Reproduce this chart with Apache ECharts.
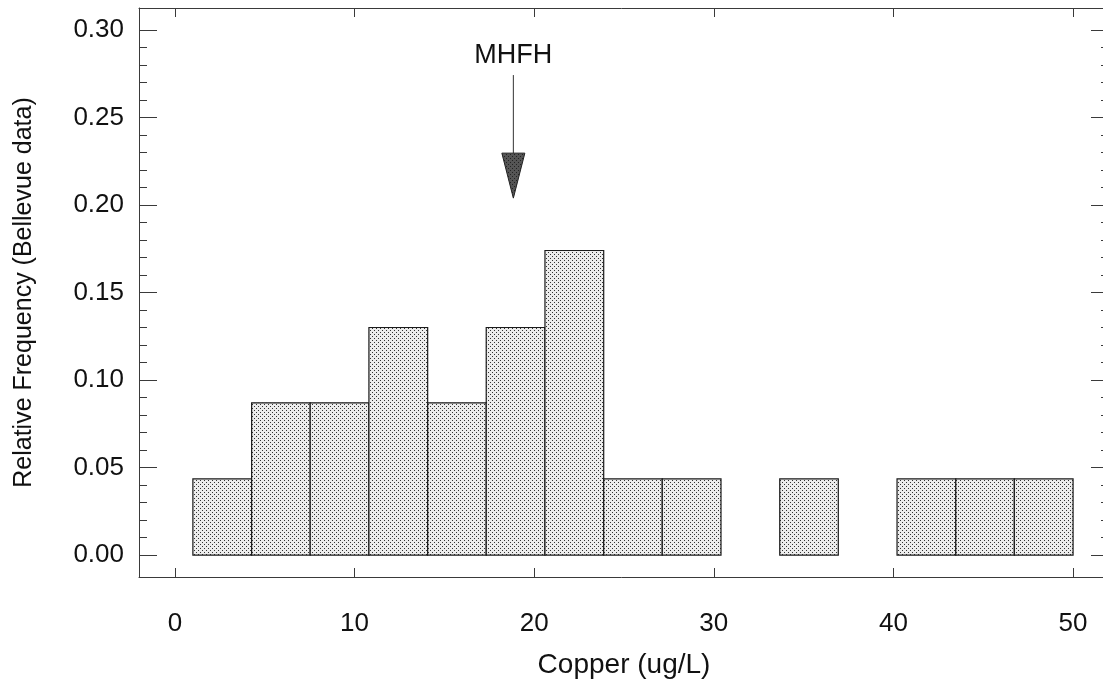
<!DOCTYPE html>
<html>
<head>
<meta charset="utf-8">
<script src="https://cdn.jsdelivr.net/npm/echarts@6/dist/echarts.min.js"></script>
<style>
html, body { margin: 0; padding: 0; background: #fff; }
#chart { width: 1103px; height: 683px; }
</style>
</head>
<body>
<div id="chart"></div>
<script>
// histogram bins (Copper, ug/L) and relative frequency per bin
var binEdges = [1.0, 4.27, 7.53, 10.8, 14.07, 17.33, 20.6, 23.87, 27.13, 30.4, 33.67, 36.93, 40.2, 43.47, 46.73, 50.0];
var relFreq = [0.0435, 0.087, 0.087, 0.13, 0.087, 0.13, 0.174, 0.0435, 0.0435, 0, 0.0435, 0, 0.0435, 0.0435, 0.0435];

var xTicks = [0, 10, 20, 30, 40, 50];
var yTicks = [0, 0.05, 0.10, 0.15, 0.20, 0.25, 0.30];
var yMinorTicks = [0.01, 0.02, 0.03, 0.04, 0.06, 0.07, 0.08, 0.09, 0.11, 0.12, 0.13, 0.14,
  0.16, 0.17, 0.18, 0.19, 0.21, 0.22, 0.23, 0.24, 0.26, 0.27, 0.28, 0.29];

// MHFH arrow: x, label y, shaft top, head top, tip
var mhfhArrow = [[18.84, 0.2856, 0.2742, 0.2296, 0.2039]];

var FONT = '"Liberation Sans", Arial, Helvetica, sans-serif';
var FRAME = { color: '#3a3a3a', width: 1 };

function stipple(bg, dot) {
  var c = document.createElement('canvas');
  c.width = 4; c.height = 4;
  var g = c.getContext('2d');
  g.fillStyle = bg; g.fillRect(0, 0, 4, 4);
  g.fillStyle = dot;
  g.fillRect(0, 0, 1, 1);
  g.fillRect(2, 2, 1, 1);
  return c;
}
var barPattern = stipple('#ececec', '#333333');
var headPattern = stipple('#555555', '#222222');

var bins = [];
for (var i = 0; i < relFreq.length; i++) {
  bins.push([binEdges[i], binEdges[i + 1], relFreq[i]]);
}

var myChart = echarts.init(document.getElementById('chart'));

myChart.setOption({
  animation: false,
  grid: { left: 139, top: 8, width: 970, height: 569, outerBoundsMode: 'none' },
  xAxis: [
    {
      type: 'value', position: 'bottom', min: -2, max: 52,
      axisLine: { show: true, onZero: false, lineStyle: FRAME },
      axisTick: { show: true, inside: true, length: 9, customValues: xTicks, lineStyle: FRAME },
      axisLabel: { customValues: xTicks, margin: 34, fontSize: 26, color: '#111', fontFamily: FONT },
      splitLine: { show: false },
      name: 'Copper (ug/L)', nameLocation: 'middle', nameGap: 74,
      nameTextStyle: { fontSize: 28, color: '#111', fontFamily: FONT }
    },
    {
      type: 'value', position: 'top', min: -2, max: 52,
      axisLine: { show: true, onZero: false, lineStyle: FRAME },
      axisTick: { show: true, inside: true, length: 9, customValues: xTicks, lineStyle: FRAME },
      axisLabel: { show: false },
      splitLine: { show: false }
    }
  ],
  yAxis: [
    {
      type: 'value', position: 'left', min: -0.0125, max: 0.3125,
      axisLine: { show: true, onZero: false, lineStyle: FRAME },
      axisTick: { show: true, inside: true, length: 18, customValues: yTicks, lineStyle: FRAME },
      axisLabel: {
        customValues: yTicks, margin: 15, fontSize: 26, color: '#111', fontFamily: FONT,
        formatter: function (v) { return v.toFixed(2); }
      },
      splitLine: { show: false },
      name: 'Relative Frequency (Bellevue data)', nameLocation: 'middle', nameGap: 102,
      nameTextStyle: { fontSize: 25, color: '#111', fontFamily: FONT }
    },
    {
      type: 'value', position: 'left', min: -0.0125, max: 0.3125,
      axisLine: { show: false, onZero: false },
      axisTick: { show: true, inside: true, length: 8, customValues: yMinorTicks, lineStyle: FRAME },
      axisLabel: { show: false },
      splitLine: { show: false }
    },
    {
      type: 'value', position: 'right', min: -0.0125, max: 0.3125,
      axisLine: { show: true, onZero: false, lineStyle: FRAME },
      axisTick: { show: true, inside: true, length: 18, customValues: yTicks, lineStyle: FRAME },
      axisLabel: { show: false },
      splitLine: { show: false }
    },
    {
      type: 'value', position: 'right', min: -0.0125, max: 0.3125,
      axisLine: { show: false, onZero: false },
      axisTick: { show: true, inside: true, length: 8, customValues: yMinorTicks, lineStyle: FRAME },
      axisLabel: { show: false },
      splitLine: { show: false }
    }
  ],
  series: [
    {
      type: 'custom',
      xAxisIndex: 0, yAxisIndex: 0,
      data: bins,
      renderItem: function (params, api) {
        var h = api.value(2);
        if (!h) return null;
        var p0 = api.coord([api.value(0), 0]);
        var p1 = api.coord([api.value(1), h]);
        return {
          type: 'rect',
          shape: { x: p0[0], y: p1[1], width: p1[0] - p0[0], height: p0[1] - p1[1] },
          style: { fill: { image: barPattern, repeat: 'repeat' }, stroke: '#1a1a1a', lineWidth: 1.2 }
        };
      }
    },
    {
      type: 'custom',
      xAxisIndex: 0, yAxisIndex: 0,
      data: mhfhArrow,
      renderItem: function (params, api) {
        var x = api.value(0);
        var t = api.coord([x, api.value(1)]);
        var a = api.coord([x, api.value(2)]);
        var b = api.coord([x, api.value(3)]);
        var c = api.coord([x, api.value(4)]);
        return {
          type: 'group',
          children: [
            { type: 'text', style: { text: 'MHFH', x: t[0], y: t[1], align: 'center', verticalAlign: 'middle',
                fontSize: 27, fontFamily: FONT, fill: '#111' } },
            { type: 'line', shape: { x1: a[0], y1: a[1], x2: b[0], y2: b[1] },
              style: { stroke: '#333', lineWidth: 1 } },
            { type: 'polygon', shape: { points: [[b[0] - 11.5, b[1]], [b[0] + 11.5, b[1]], [c[0], c[1]]] },
              style: { fill: { image: headPattern, repeat: 'repeat' }, stroke: '#222', lineWidth: 1 } }
          ]
        };
      }
    }
  ]
});

window.addEventListener('resize', function () { myChart.resize(); });
</script>
</body>
</html>
